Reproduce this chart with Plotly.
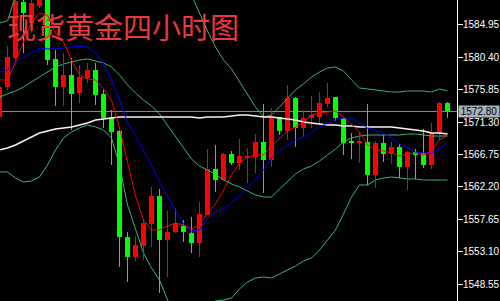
import plotly.graph_objects as go

# ---------------- data ----------------
title_text = "现货黄金四小时图"
last_price = 1572.80

opens = [1572.02, 1576.24, 1580.31, 1588.18, 1585.23, 1587.62, 1588.74, 1580.17, 1576.24, 1577.92,
         1575.39, 1577.50, 1578.63, 1575.25, 1572.02, 1570.06, 1555.16, 1552.35, 1553.90, 1556.99,
         1560.92, 1554.74, 1555.86, 1556.71, 1555.72, 1554.32, 1558.25, 1564.72, 1563.17, 1566.82,
         1565.56, 1566.40, 1566.40, 1568.51, 1565.98, 1572.02, 1570.06, 1574.69, 1570.48, 1571.88,
         1572.02, 1573.85, 1574.83, 1571.88, 1568.51, 1568.37, 1568.51, 1563.87, 1568.37, 1566.82,
         1567.81, 1565.00, 1567.10, 1566.96, 1565.28, 1569.77, 1573.99]

highs = [1576.66, 1581.99, 1588.88, 1588.74, 1588.60, 1588.88, 1588.88, 1581.44, 1581.02, 1580.31,
         1579.33, 1579.61, 1579.61, 1575.82, 1573.01, 1570.20, 1555.86, 1555.30, 1557.55, 1562.19,
         1561.91, 1558.81, 1559.24, 1557.55, 1557.97, 1560.08, 1567.53, 1568.09, 1566.96, 1567.25,
         1568.93, 1567.67, 1569.63, 1573.85, 1573.29, 1572.02, 1576.52, 1574.83, 1573.01, 1574.97,
         1575.53, 1576.80, 1574.83, 1571.88, 1569.77, 1569.92, 1573.85, 1568.65, 1569.49, 1568.51,
         1568.23, 1567.25, 1567.53, 1570.34, 1571.18, 1574.13, 1574.13]

lows = [1571.60, 1575.82, 1580.03, 1581.02, 1583.82, 1587.34, 1579.33, 1573.57, 1573.57, 1570.20,
        1573.99, 1576.80, 1573.71, 1570.48, 1565.28, 1550.95, 1548.84, 1551.79, 1551.93, 1553.76,
        1547.30, 1549.54, 1555.72, 1554.46, 1552.91, 1552.35, 1558.25, 1561.49, 1563.17, 1565.28,
        1564.58, 1562.75, 1564.16, 1561.35, 1565.00, 1569.49, 1568.79, 1567.81, 1569.21, 1570.48,
        1570.90, 1573.43, 1571.46, 1566.68, 1566.12, 1565.56, 1562.47, 1562.05, 1565.70, 1565.42,
        1563.45, 1561.77, 1563.31, 1564.86, 1564.72, 1568.79, 1571.88]

closes = [1576.24, 1580.45, 1588.32, 1586.63, 1588.04, 1588.46, 1580.03, 1576.24, 1577.92, 1575.25,
          1577.64, 1578.63, 1575.11, 1571.88, 1569.92, 1555.16, 1552.35, 1554.04, 1557.13, 1560.92,
          1554.74, 1555.86, 1557.13, 1555.86, 1554.32, 1558.39, 1564.72, 1563.17, 1566.82, 1565.56,
          1566.54, 1566.54, 1568.51, 1565.98, 1572.16, 1570.06, 1574.69, 1570.48, 1571.88, 1572.30,
          1573.99, 1574.69, 1571.88, 1568.37, 1568.37, 1568.51, 1563.87, 1568.37, 1566.82, 1567.81,
          1565.00, 1567.10, 1566.82, 1565.28, 1569.77, 1573.99, 1572.80]

ma_red = [1577.22, 1577.22, 1579.75, 1582.70, 1585.37, 1586.63, 1586.35, 1583.82, 1582.56, 1580.03,
          1577.92, 1577.36, 1577.22, 1575.96, 1574.41, 1570.48, 1565.70, 1560.92, 1557.55, 1556.15,
          1556.15, 1556.71, 1557.13, 1556.85, 1556.29, 1556.85, 1558.53, 1559.80, 1561.77, 1563.87,
          1565.56, 1566.40, 1566.68, 1566.68, 1567.95, 1569.07, 1570.06, 1570.62, 1571.32, 1572.30,
          1572.58, 1572.72, 1572.86, 1572.02, 1570.90, 1569.92, 1568.09, 1567.53, 1567.25, 1566.96,
          1566.54, 1566.82, 1566.96, 1566.68, 1567.25, 1568.79, 1569.49]

ma_blue = [1578.34, 1578.63, 1579.75, 1580.45, 1581.02, 1581.72, 1581.58, 1581.58, 1581.72, 1581.86,
           1581.99, 1581.86, 1581.02, 1579.47, 1577.22, 1574.41, 1571.32, 1569.35, 1567.39, 1565.28,
           1562.89, 1560.92, 1558.96, 1556.99, 1556.00, 1556.15, 1557.83, 1558.67, 1559.10, 1560.08,
           1560.92, 1562.05, 1563.17, 1564.58, 1566.26, 1567.25, 1568.09, 1568.79, 1569.21, 1569.92,
           1570.62, 1571.18, 1571.60, 1571.88, 1571.88, 1571.18, 1570.48, 1570.20, 1569.77, 1569.07,
           1568.23, 1567.67, 1567.10, 1566.96, 1566.96, 1567.53, 1568.37]

bb_mid = [1574.83, 1575.25, 1575.67, 1576.24, 1576.94, 1577.64, 1578.34, 1579.05, 1579.47, 1579.75,
          1580.03, 1580.17, 1579.89, 1579.61, 1579.05, 1577.92, 1576.52, 1575.39, 1574.41, 1573.57,
          1572.44, 1570.90, 1569.35, 1567.67, 1566.12, 1565.14, 1564.58, 1564.01, 1563.17, 1562.61,
          1562.19, 1561.63, 1561.06, 1560.78, 1560.78, 1561.91, 1563.03, 1564.01, 1564.72, 1565.14,
          1565.84, 1566.68, 1567.53, 1568.51, 1569.07, 1569.35, 1569.49, 1569.49, 1569.49, 1569.49,
          1569.49, 1569.63, 1569.63, 1569.49, 1569.35, 1569.35, 1569.35]

bb_up = [1585.23, 1585.51, 1589.02, 1589.58, 1590.85, 1591.69, 1591.41, 1590.71, 1589.87, 1589.58,
         1589.58, 1589.44, 1589.16, 1589.02, 1589.02, 1590.57, 1593.38, 1594.64, 1595.91, 1596.33,
         1595.77, 1595.49, 1593.80, 1591.83, 1589.16, 1586.63, 1584.10, 1581.86, 1580.03, 1578.77,
         1576.94, 1575.11, 1573.43, 1572.02, 1572.30, 1573.43, 1574.69, 1575.82, 1576.66, 1577.64,
         1578.34, 1578.91, 1579.05, 1578.48, 1577.22, 1576.10, 1575.96, 1575.82, 1575.67, 1575.53,
         1575.53, 1575.67, 1575.67, 1575.67, 1575.53, 1575.96, 1575.67]

bb_low = [1564.30, 1564.30, 1563.45, 1562.89, 1563.03, 1563.59, 1565.28, 1567.39, 1569.07, 1569.92,
          1570.48, 1570.90, 1570.62, 1570.20, 1569.07, 1565.28, 1559.66, 1556.15, 1552.91, 1550.81,
          1549.12, 1546.31, 1544.90, 1543.78, 1543.22, 1543.64, 1545.05, 1546.17, 1546.31, 1546.59,
          1547.86, 1548.84, 1549.40, 1549.54, 1549.40, 1549.96, 1550.53, 1551.09, 1551.79, 1552.21,
          1553.34, 1554.74, 1556.15, 1558.39, 1560.78, 1562.47, 1562.47, 1563.17, 1563.45, 1563.59,
          1563.45, 1563.31, 1563.31, 1563.17, 1563.17, 1563.17, 1563.17]

ma_white = [1567.39, 1567.67, 1568.09, 1568.65, 1569.21, 1569.77, 1570.06, 1570.34, 1570.48, 1570.62,
            1570.90, 1571.18, 1571.60, 1571.74, 1571.88, 1572.02, 1572.02, 1572.02, 1572.02, 1572.02,
            1572.02, 1572.02, 1572.02, 1572.02, 1572.02, 1571.88, 1572.02, 1572.02, 1572.02, 1572.16,
            1572.30, 1572.30, 1572.16, 1572.02, 1572.02, 1571.88, 1571.74, 1571.60, 1571.32, 1571.18,
            1571.04, 1570.90, 1570.90, 1570.76, 1570.76, 1570.62, 1570.62, 1570.62, 1570.62, 1570.62,
            1570.48, 1570.34, 1570.20, 1570.06, 1569.77, 1569.77, 1569.63]

y_ticks = [1548.55, 1553.10, 1557.65, 1562.20, 1566.75, 1571.30, 1575.85, 1580.40, 1584.95]

# ---------------- styles ----------------
UP = "#ff0000"
DN = "#00ff00"
BAND = "#3cb371"
AXIS_FONT = "Liberation Sans, Arial, sans-serif"

n = len(closes)
idx = list(range(n))
up_i = [i for i in idx if closes[i] >= opens[i]]
dn_i = [i for i in idx if closes[i] < opens[i]]


def wicks(ids):
    xs, ys = [], []
    for i in ids:
        xs += [i, i, None]
        ys += [lows[i], highs[i], None]
    return xs, ys


fig = go.Figure()

# Bollinger bands (behind candles)
for series in (bb_up, bb_mid, bb_low):
    fig.add_trace(go.Scatter(x=idx, y=series, mode="lines",
                             line=dict(color=BAND, width=1), hoverinfo="skip"))

# wicks
for ids, col in [(up_i, UP), (dn_i, DN)]:
    wx, wy = wicks(ids)
    fig.add_trace(go.Scatter(x=wx, y=wy, mode="lines", line=dict(color=col, width=1),
                             hoverinfo="skip"))

# bodies
fig.add_trace(go.Bar(x=up_i, base=[opens[i] for i in up_i],
                     y=[max(closes[i] - opens[i], 0.13) for i in up_i],
                     width=0.625, marker=dict(color=UP, line=dict(width=0))))
fig.add_trace(go.Bar(x=dn_i, base=[closes[i] for i in dn_i],
                     y=[max(opens[i] - closes[i], 0.13) for i in dn_i],
                     width=0.625, marker=dict(color=DN, line=dict(width=0))))

# moving averages on top
fig.add_trace(go.Scatter(x=idx, y=ma_white, mode="lines",
                         line=dict(color="#fff0f0", width=1.5), hoverinfo="skip"))
fig.add_trace(go.Scatter(x=idx, y=ma_blue, mode="lines",
                         line=dict(color="#0000ff", width=1), hoverinfo="skip"))
fig.add_trace(go.Scatter(x=idx, y=ma_red, mode="lines",
                         line=dict(color="#ff0000", width=1), hoverinfo="skip"))

fig.update_layout(
    width=500, height=301, autosize=False,
    margin=dict(l=0, r=43, t=0, b=0, pad=0),
    paper_bgcolor="#000000", plot_bgcolor="#000000",
    showlegend=False, barmode="overlay",
    xaxis=dict(range=[0.0625, 57.1875], showgrid=False, zeroline=False,
               showticklabels=False, ticks="", showline=False, fixedrange=True),
    yaxis=dict(range=[1546.17, 1588.46], side="right", showgrid=False, zeroline=False,
               tickmode="array", tickvals=y_ticks, ticktext=[f"{v:.2f}" for v in y_ticks],
               ticks="outside", ticklen=5, tickwidth=1, tickcolor="#ffffff",
               ticklabelstandoff=-2,
               showline=True, linecolor="#ffffff", linewidth=1, automargin=False,
               tickfont=dict(family=AXIS_FONT, size=10, color="#ffffff"), fixedrange=True),
    shapes=[dict(type="line", xref="x domain", x0=0, x1=1, yref="y",
                 y0=last_price, y1=last_price, line=dict(color="#8c8c8c", width=1),
                 layer="below")],
    annotations=[
        dict(text=title_text, xref="paper", yref="paper", x=0.012, y=1 - 26.5 / 301,
             xanchor="left", yanchor="middle", showarrow=False,
             font=dict(family="Noto Sans CJK SC", size=29, color="#e8393c")),
        dict(text=f"{last_price:.2f}", xref="paper", yref="y", x=1, y=last_price,
             xanchor="left", yanchor="middle", xshift=1, showarrow=False,
             bgcolor="#a8b0b8", borderpad=0, width=40, height=11,
             font=dict(family=AXIS_FONT, size=10, color="#000000")),
    ],
)

fig.write_html("out.html")
